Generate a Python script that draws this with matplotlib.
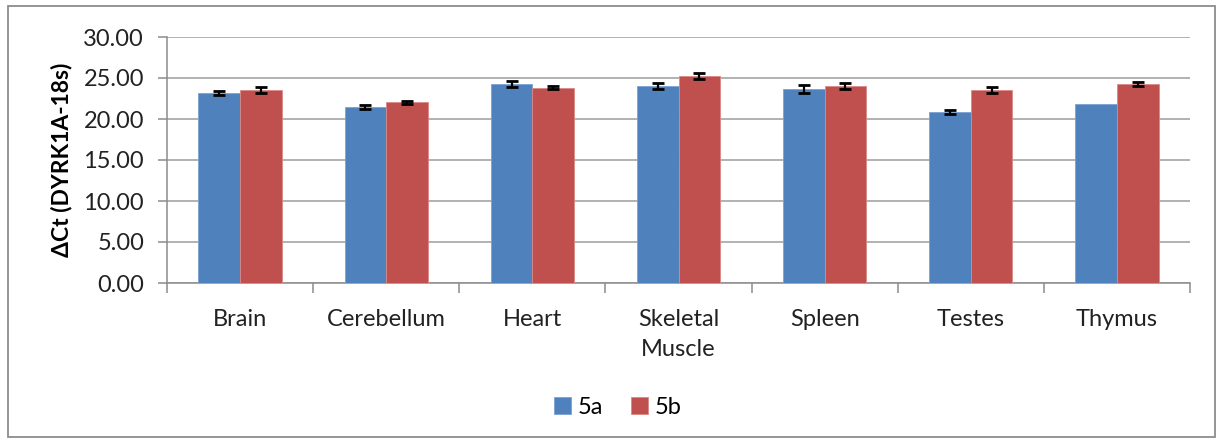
import matplotlib
matplotlib.use("Agg")
import matplotlib.pyplot as plt
from matplotlib.patches import Rectangle
import numpy as np

categories = ["Brain", "Cerebellum", "Heart", "Skeletal\nMuscle", "Spleen", "Testes", "Thymus"]
series_a = [23.2, 21.45, 24.25, 24.0, 23.65, 20.85, 21.8]
series_a_err = [0.25, 0.2, 0.35, 0.35, 0.45, 0.2, 0.0]
series_b = [23.5, 22.05, 23.8, 25.25, 24.0, 23.5, 24.25]
series_b_err = [0.35, 0.2, 0.2, 0.35, 0.35, 0.35, 0.25]
series_names = ["5a", "5b"]
yticks = [0, 5, 10, 15, 20, 25, 30]

plt.rcParams['font.family'] = ['Lato', 'DejaVu Sans']

W, H = 1218, 441
fig = plt.figure(figsize=(W / 100, H / 100), dpi=100)
fig.patches.append(Rectangle((8 / W, 1 - 437 / H), (1215 - 8) / W, (437 - 6) / H,
                             transform=fig.transFigure, fill=False,
                             edgecolor="#8c8c8c", linewidth=1.3))

ax = fig.add_axes([167 / W, 1 - 283 / H, (1190 - 167) / W, (283 - 37) / H])
x = np.arange(len(categories))
bw = 0.285
blue = "#4F81BD"
red = "#C0504D"
b1 = ax.bar(x - bw / 2, series_a, bw, color=blue, edgecolor="#7da2d3", linewidth=0.6,
            zorder=3, label=series_names[0])
b2 = ax.bar(x + bw / 2, series_b, bw, color=red, edgecolor="#d98a88", linewidth=0.6,
            zorder=3, label=series_names[1])

err_kw = dict(fmt="none", ecolor="black", elinewidth=1.6, capsize=4.5, capthick=2.0, zorder=4)
for off, vals, errs in ((-bw / 2, series_a, series_a_err), (bw / 2, series_b, series_b_err)):
    e = np.array(errs, dtype=float)
    e[e == 0] = np.nan
    ax.errorbar(x + off, vals, yerr=e, **err_kw)

ax.set_xlim(-0.5, len(categories) - 0.5)
ax.set_ylim(0, 30)
ax.set_yticks(yticks)
ax.set_yticklabels([f"{v:.2f}" for v in yticks], fontsize=17, color="#222222")
ax.yaxis.grid(True, color="#ababab", linewidth=1.3, zorder=0)
ax.set_axisbelow(True)

ax.set_xticks(np.arange(-0.5, len(categories), 1.0))
ax.set_xticklabels([])
ax.set_xticks(x, minor=True)
ax.set_xticklabels(categories, minor=True, fontsize=17, color="#222222", linespacing=1.55)
ax.tick_params(axis="x", which="major", length=7, width=1.1, color="#8c8c8c", direction="out")
ax.tick_params(axis="x", which="minor", length=0, pad=18.5)
ax.tick_params(axis="y", length=6.5, width=1.1, color="#8c8c8c", pad=10)

for s in ["top", "right"]:
    ax.spines[s].set_visible(False)
for s in ["left", "bottom"]:
    ax.spines[s].set_color("#8c8c8c")
    ax.spines[s].set_linewidth(1.1)

ax.set_ylabel("ΔCt (DYRK1A-18s)", fontsize=16.5, fontweight="bold", labelpad=8)

fig.legend(handles=[b1, b2], labels=series_names, loc="center", ncol=2,
           bbox_to_anchor=(618 / W, 1 - 407 / H), frameon=False, fontsize=17,
           handlelength=0.7, handleheight=0.7, handletextpad=0.3, columnspacing=1.2)

fig.savefig("out.png", dpi=100)
